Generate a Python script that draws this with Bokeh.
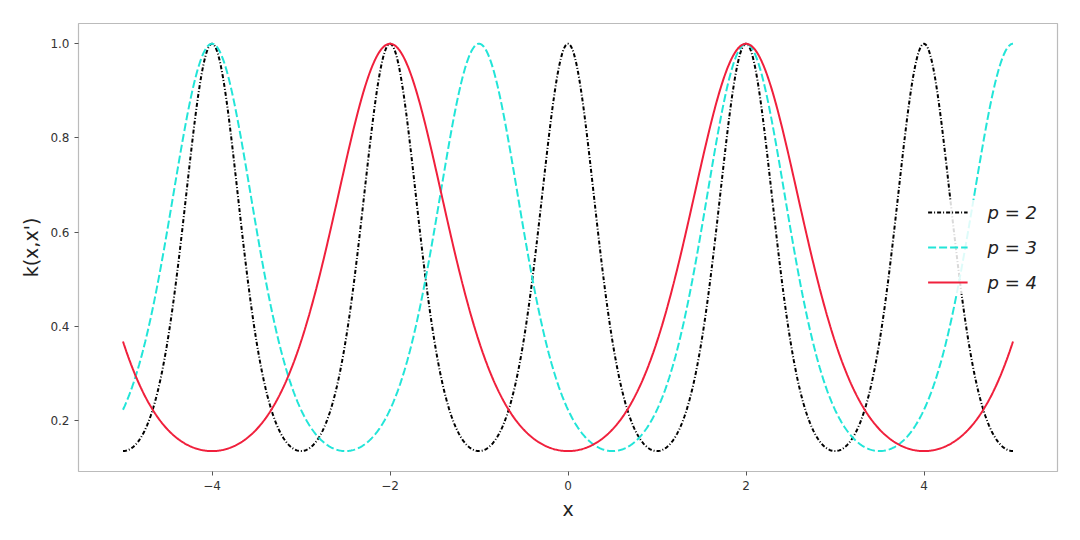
import numpy as np
from bokeh.plotting import figure
from bokeh.models import Range1d, FixedTicker, Legend, LegendItem
from bokeh.embed import file_html
from bokeh.resources import INLINE

# Periodic kernel k(x, x') = exp(-2 sin^2(pi |x - x'| / p) / l^2)
x_prime = 2.0
length_scale = 1.0
periods = [2, 3, 4]
labels = ["p = 2", "p = 3", "p = 4"]
colors = ["#000000", "#22e5d8", "#f0203c"]
dashes = ["4 2 1 2", "8 3", "solid"]
x_min, x_max = -5.0, 5.0
x_ticks = [-4, -2, 0, 2, 4]
y_ticks = [0.2, 0.4, 0.6, 0.8, 1.0]

xs = np.linspace(x_min, x_max, 1000)

p = figure(width=1072, height=532, output_backend="svg", toolbar_location=None,
           x_range=Range1d(-5.5, 5.5), y_range=Range1d(0.092, 1.043),
           min_border_left=78, min_border_right=15, min_border_top=23, min_border_bottom=61)
p.background_fill_color = "white"
p.border_fill_color = "white"
p.outline_line_color = "#bbbbbb"
p.outline_line_width = 1.2
p.xgrid.visible = False
p.ygrid.visible = False

renderers = []
for per, col, dash in zip(periods, colors, dashes):
    ys = np.exp(-2 * np.sin(np.pi * np.abs(xs - x_prime) / per) ** 2 / length_scale ** 2)
    r = p.line(xs, ys, line_color=col, line_width=2, line_dash=dash)
    renderers.append(r)

for ax in (p.xaxis[0], p.yaxis[0]):
    ax.axis_line_color = None
    ax.major_tick_in = 0
    ax.major_tick_out = 4
    ax.major_tick_line_color = "#555555"
    ax.minor_tick_line_color = None
    ax.major_label_text_font = "DejaVu Sans"
    ax.major_label_text_font_size = "12px"
    ax.major_label_text_color = "#333333"
    ax.axis_label_text_font = "DejaVu Sans"
    ax.axis_label_text_font_size = "19px"
    ax.axis_label_text_font_style = "normal"
    ax.axis_label_text_color = "#222222"

p.xaxis.ticker = FixedTicker(ticks=x_ticks)
p.xaxis.major_label_overrides = {t: (("\u2212" + str(abs(t))) if t < 0 else str(t)) for t in x_ticks}
p.yaxis.ticker = FixedTicker(ticks=y_ticks)
p.yaxis.major_label_overrides = {t: f"{t:.1f}" for t in y_ticks}
p.xaxis.axis_label = "x"
p.yaxis.axis_label = "k(x,x')"

legend = Legend(items=[LegendItem(label=l, renderers=[r]) for l, r in zip(labels, renderers)],
                location="center_right")
legend.label_text_font = "DejaVu Sans"
legend.label_text_font_style = "italic"
legend.label_text_font_size = "18px"
legend.label_text_color = "#222222"
legend.glyph_width = 40
legend.glyph_height = 24
legend.label_standoff = 20
legend.spacing = 11
legend.padding = 14
legend.border_line_color = None
legend.background_fill_alpha = 0.85
legend.margin = 20
p.add_layout(legend)

open("out.html", "w").write(file_html(p, INLINE))
